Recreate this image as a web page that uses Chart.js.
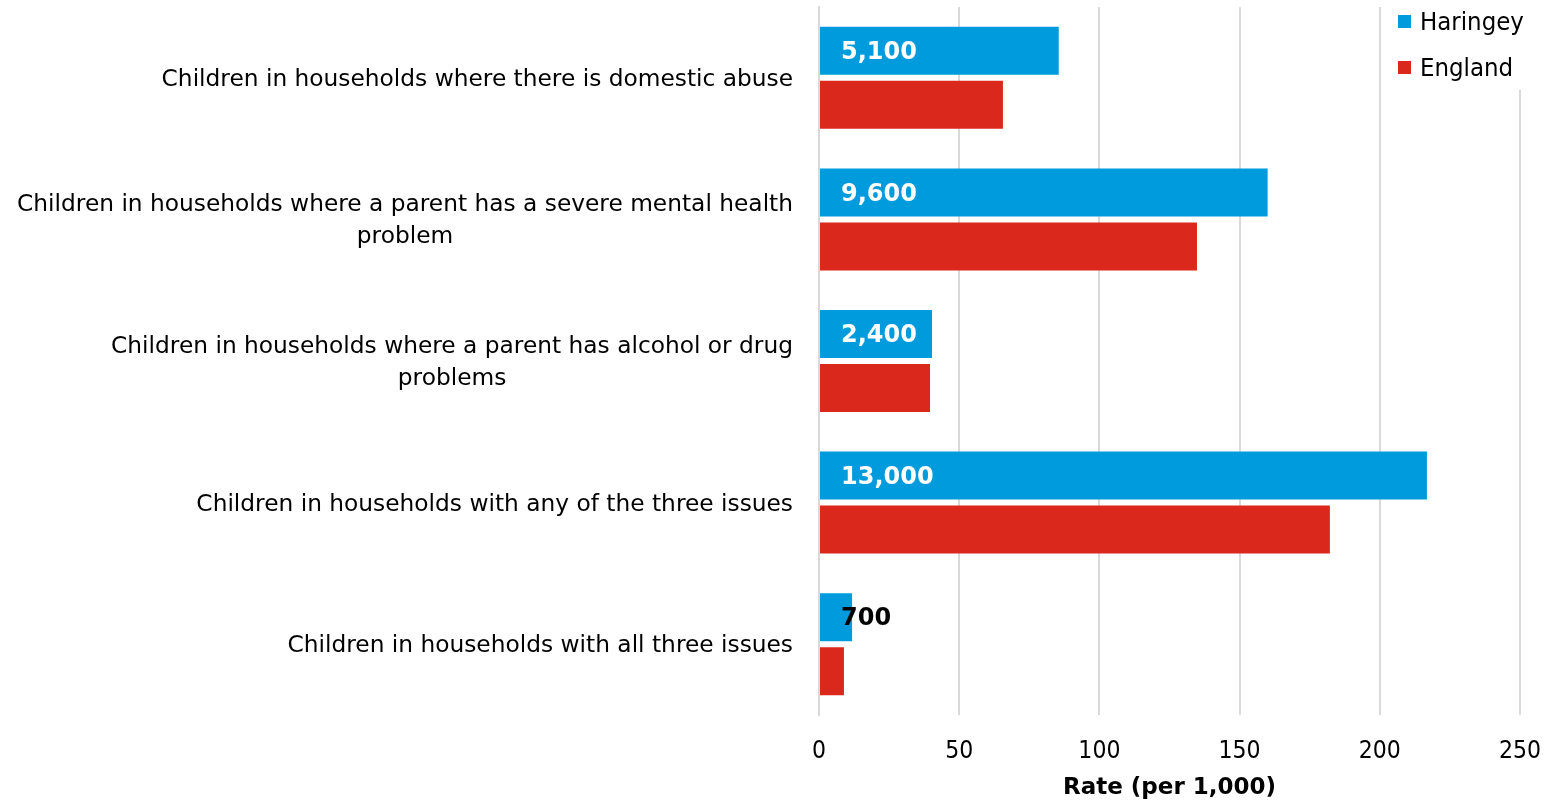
<!DOCTYPE html>
<html>
<head>
<meta charset="utf-8">
<script src="https://cdn.jsdelivr.net/npm/chart.js@4/dist/chart.umd.min.js"></script>
<style>
  html, body { margin: 0; padding: 0; background: #fff; }
  #wrap { width: 1547px; height: 802px; position: relative; }
</style>
</head>
<body>
<div id="wrap"><canvas id="c" width="1547" height="802"></canvas></div>
<script>
// Categories (multi-line labels are arrays of lines)
const categories = [
  ['Children in households where there is domestic abuse'],
  ['Children in households where a parent has a severe mental health', 'problem'],
  ['Children in households where a parent has alcohol or drug', 'problems'],
  ['Children in households with any of the three issues'],
  ['Children in households with all three issues']
];
// Rate per 1,000 children
const haringeyRate = [85.5, 160, 40.3, 216.8, 11.8];
const englandRate  = [65.6, 134.8, 39.6, 182.2, 8.9];
// Estimated number of children in Haringey
const haringeyCount = [5100, 9600, 2400, 13000, 700];
// X axis ticks
const xTicks = [0, 50, 100, 150, 200, 250];

const FONT = "'DejaVu Sans', sans-serif";
const FONT_NARROW = "'DejaVu Sans Condensed', 'DejaVu Sans', sans-serif";
const BLUE = '#009bdc';
const RED = '#da291c';

// Category labels: block right-aligned to the axis, lines centred within the block
const categoryLabels = {
  id: 'categoryLabels',
  afterDraw(chart) {
    const ctx = chart.ctx;
    const y = chart.scales.y;
    ctx.save();
    ctx.font = '23.3px ' + FONT;
    ctx.fillStyle = '#000';
    ctx.textBaseline = 'middle';
    ctx.textAlign = 'center';
    const lineH = 32;
    const right = y.right - 26;
    categories.forEach((lines, i) => {
      const cy = y.getPixelForTick(i) + 2;
      const w = Math.max(...lines.map(l => ctx.measureText(l).width));
      const cx = right - w / 2;
      lines.forEach((l, j) => {
        ctx.fillText(l, cx, cy + (j - (lines.length - 1) / 2) * lineH);
      });
    });
    ctx.restore();
  }
};

// Counts written at the start of each Haringey bar
const countLabels = {
  id: 'countLabels',
  afterDatasetsDraw(chart) {
    const ctx = chart.ctx;
    const meta = chart.getDatasetMeta(0);
    ctx.save();
    ctx.font = 'bold 24px ' + FONT;
    ctx.textBaseline = 'middle';
    ctx.textAlign = 'left';
    meta.data.forEach((bar, i) => {
      const txt = haringeyCount[i].toLocaleString('en-GB');
      const x = bar.base + 21;
      const tw = ctx.measureText(txt).width;
      ctx.fillStyle = (x + tw < bar.x) ? '#fff' : '#000';
      ctx.fillText(txt, x, bar.y + 2);
    });
    ctx.restore();
  }
};

// Legend box in the top-right corner
const cornerLegend = {
  id: 'cornerLegend',
  afterDraw(chart) {
    const ctx = chart.ctx;
    ctx.save();
    ctx.fillStyle = '#fff';
    ctx.fillRect(1390, 0, 157, 90);
    ctx.font = '25.5px ' + FONT_NARROW;
    ctx.textBaseline = 'middle';
    ctx.textAlign = 'left';
    chart.data.datasets.forEach((ds, i) => {
      const cy = 22 + i * 46;
      ctx.fillStyle = ds.backgroundColor;
      ctx.fillRect(1398, cy - 7, 13, 13);
      ctx.fillStyle = '#000';
      ctx.fillText(ds.label, 1420, cy + 1);
    });
    ctx.restore();
  }
};

new Chart(document.getElementById('c'), {
  type: 'bar',
  data: {
    labels: categories.map(l => l.join(' ')),
    datasets: [
      { label: 'Haringey', data: haringeyRate, backgroundColor: BLUE,
        categoryPercentage: 0.763, barPercentage: 0.889 },
      { label: 'England', data: englandRate, backgroundColor: RED,
        categoryPercentage: 0.763, barPercentage: 0.889 }
    ]
  },
  options: {
    indexAxis: 'y',
    responsive: false,
    animation: false,
    devicePixelRatio: 1,
    layout: { padding: { top: 7, right: 27, bottom: 0, left: 0 } },
    plugins: { legend: { display: false }, tooltip: { enabled: false } },
    scales: {
      x: {
        min: 0, max: 250,
        afterBuildTicks(scale) { scale.ticks = xTicks.map(v => ({ value: v })); },
        grid: { color: '#d9d9d9', lineWidth: 2, drawTicks: false },
        border: { display: false },
        ticks: { font: { family: FONT_NARROW, size: 24.5 }, color: '#000', padding: 22 },
        title: { display: true, text: 'Rate (per 1,000)', color: '#000',
                 font: { family: FONT, size: 23, weight: 'bold' }, padding: { top: 8, bottom: 0 } },
        afterFit(scale) {
          scale.height = 87;
          scale.paddingLeft = 0;
          scale.paddingRight = 0;
        }
      },
      y: {
        grid: { display: false, drawTicks: false },
        border: { display: true, color: '#d9d9d9', width: 2 },
        ticks: { display: false },
        afterFit(scale) { scale.width = 819; }
      }
    }
  },
  plugins: [categoryLabels, countLabels, cornerLegend]
});
</script>
</body>
</html>
